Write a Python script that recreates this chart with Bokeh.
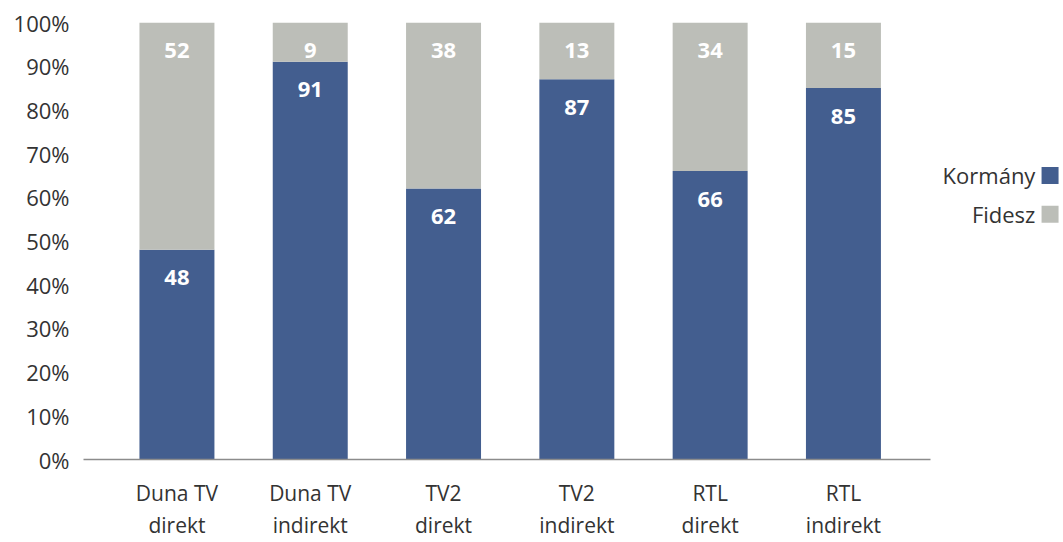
from bokeh.plotting import figure
from bokeh.models import Range1d, ColumnDataSource, NumeralTickFormatter, FixedTicker
from bokeh.core.properties import value
from bokeh.embed import file_html
from bokeh.resources import INLINE

categories = ["Duna TV\ndirekt", "Duna TV\nindirekt", "TV2\ndirekt", "TV2\nindirekt", "RTL\ndirekt", "RTL\nindirekt"]
kormany = [48, 91, 62, 87, 66, 85]
fidesz = [52, 9, 38, 13, 34, 15]
series = ["Kormány", "Fidesz"]
colors = ["#435E8F", "#BCBEB8"]

FONT = "Open Sans"
TXT = "#333333"

xs = list(range(len(categories)))
k = [v / 100 for v in kormany]
f = [v / 100 for v in fidesz]
src = ColumnDataSource(dict(x=xs, Kormány=k, Fidesz=f,
                            ktop=k, ftop=[a + b for a, b in zip(k, f)],
                            klab=[str(v) for v in kormany], flab=[str(v) for v in fidesz]))

W, H = 1060, 542
LEFT, TOP, BOTTOM = 83, 22, 83
PX = 133.3
x0 = -0.701
x1 = x0 + (W - LEFT) / PX

p = figure(output_backend="svg", toolbar_location=None, width=W, height=H,
           min_border_left=LEFT, min_border_right=0, min_border_top=TOP, min_border_bottom=BOTTOM,
           x_range=Range1d(x0, x1), y_range=Range1d(0, 1))
p.outline_line_color = None
p.xgrid.grid_line_color = None
p.ygrid.grid_line_color = None

p.vbar_stack(series, x="x", width=0.5625, color=colors, source=src, line_color=None)

p.text(x="x", y="ktop", text="klab", source=src, text_color="white",
       text_font=value(FONT), text_font_style="bold", text_font_size="22px",
       text_align="center", text_baseline="middle", y_offset=28)
p.text(x="x", y="ftop", text="flab", source=src, text_color="white",
       text_font=value(FONT), text_font_style="bold", text_font_size="22px",
       text_align="center", text_baseline="middle", y_offset=28)

p.yaxis.ticker = FixedTicker(ticks=[i / 10 for i in range(11)])
p.yaxis.formatter = NumeralTickFormatter(format="0%")
p.yaxis.axis_line_color = None
p.yaxis.major_tick_line_color = None
p.yaxis.minor_tick_line_color = None
p.yaxis.major_label_standoff = 8
p.yaxis.major_label_text_font = FONT
p.yaxis.major_label_text_font_size = "22px"
p.yaxis.major_label_text_color = TXT

p.xaxis.ticker = FixedTicker(ticks=xs)
p.xaxis.bounds = (x0, 5.652)
p.xaxis.major_label_overrides = {i: c for i, c in enumerate(categories)}
p.xaxis.axis_line_color = "#8C8C8C"
p.xaxis.axis_line_width = 1.5
p.xaxis.major_tick_line_color = None
p.xaxis.minor_tick_line_color = None
p.xaxis.major_label_standoff = 13
p.xaxis.major_label_text_font = FONT
p.xaxis.major_label_text_font_size = "21px"
p.xaxis.major_label_text_color = TXT
p.xaxis.major_label_text_line_height = 1.15

# legend (text left of swatch), drawn right of the bars
leg = ColumnDataSource(dict(name=series, color=colors, tx=[6.44, 6.44], sx=[6.55, 6.55], y=[0.65, 0.561]))
p.text(x="tx", y="y", text="name", source=leg, text_color=TXT, text_font=value(FONT),
       text_font_size="22px", text_align="right", text_baseline="middle")
p.scatter(x="sx", y="y", marker="square", size=17, color="color", line_color=None, source=leg)

open("out.html", "w").write(file_html(p, INLINE))
